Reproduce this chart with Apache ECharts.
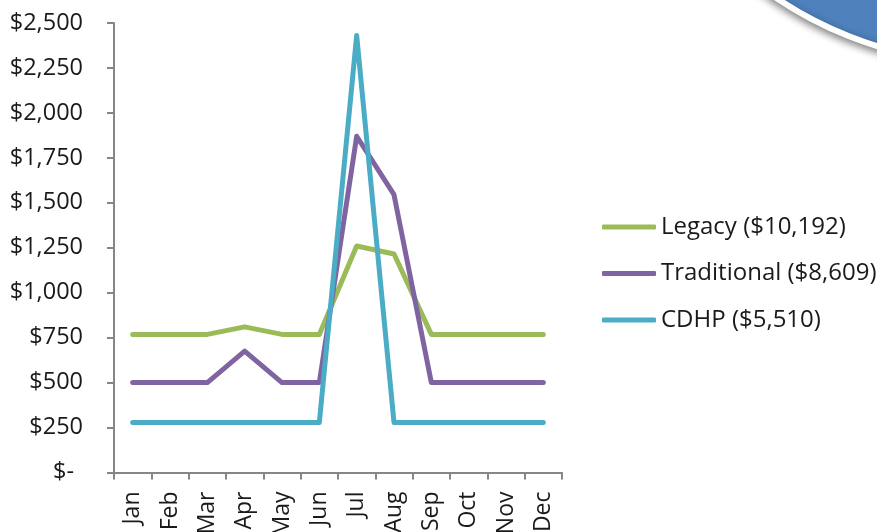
<!DOCTYPE html>
<html>
<head>
<meta charset="utf-8">
<script src="https://cdn.jsdelivr.net/npm/echarts@6/dist/echarts.min.js"></script>
<style>
  html, body { margin: 0; padding: 0; background: #fff; overflow: hidden; }
  #chart { width: 877px; height: 532px; }
</style>
</head>
<body>
<div id="chart"></div>
<script>
// Monthly plan cost by plan type
const months = ['Jan', 'Feb', 'Mar', 'Apr', 'May', 'Jun', 'Jul', 'Aug', 'Sep', 'Oct', 'Nov', 'Dec'];
const legacy      = [768, 768, 768, 810, 768, 768, 1260, 1215, 768, 768, 768, 768];
const traditional = [500, 500, 500, 675, 500, 500, 1870, 1545, 500, 500, 500, 500];
const cdhp        = [278, 278, 278, 278, 278, 278, 2430, 278, 278, 278, 278, 278];
const seriesNames = ['Legacy ($10,192)', 'Traditional ($8,609)', 'CDHP ($5,510)'];
const yTicks = { min: 0, max: 2500, interval: 250 };

const FONT = '"Open Sans", "Noto Sans", sans-serif';
const colors = ['#9BBB59', '#8064A2', '#4BACC6'];

function money(v) {
  if (v === 0) return '{z|$-}';
  return '$' + v.toLocaleString('en-US');
}

const chart = echarts.init(document.getElementById('chart'), null, { renderer: 'canvas' });

const lineSeries = [legacy, traditional, cdhp].map((data, i) => ({
  name: seriesNames[i],
  type: 'line',
  data: data,
  symbol: 'none',
  smooth: false,
  z: 2 + i,
  lineStyle: { width: 5, color: colors[i], cap: 'round', join: 'round' },
  itemStyle: { color: colors[i] }
}));

chart.setOption({
  animation: false,
  backgroundColor: '#ffffff',
  color: colors,
  // fixed plot box; month labels are allowed to run past the bottom edge
  grid: {
    left: 114, width: 448, top: 23, height: 449.5,
    containLabel: false,
    outerBoundsMode: 'none'
  },
  xAxis: {
    type: 'category',
    data: months,
    boundaryGap: true,
    axisLine: { lineStyle: { color: '#868686', width: 2 } },
    axisTick: { show: true, inside: false, length: 7, lineStyle: { color: '#868686', width: 2 } },
    axisLabel: {
      rotate: 90,
      margin: 19,
      interval: 0,
      color: '#1a1a1a',
      fontFamily: FONT,
      fontSize: 23
    },
    splitLine: { show: false }
  },
  yAxis: {
    type: 'value',
    min: yTicks.min,
    max: yTicks.max,
    interval: yTicks.interval,
    axisLine: { show: true, lineStyle: { color: '#868686', width: 2 } },
    axisTick: { show: true, inside: false, length: 7, lineStyle: { color: '#868686', width: 2 } },
    axisLabel: {
      margin: 31,
      color: '#1a1a1a',
      fontFamily: FONT,
      fontSize: 23.5,
      formatter: money,
      rich: { z: { fontFamily: FONT, fontSize: 23.5, color: '#1a1a1a', padding: [0, 9, 0, 0] } }
    },
    splitLine: { show: false }
  },
  legend: {
    orient: 'vertical',
    left: 602,
    top: 215,
    padding: 0,
    itemWidth: 54,
    itemHeight: 5,
    itemGap: 22.5,
    icon: 'roundRect',
    textStyle: { color: '#1a1a1a', fontFamily: FONT, fontSize: 24 },
    data: seriesNames
  },
  graphic: [{
    type: 'circle',
    z: 100,
    shape: { cx: 989, cy: -317, r: 380 },
    style: {
      fill: '#4F81BD',
      stroke: '#ffffff',
      lineWidth: 6,
      shadowBlur: 8,
      shadowColor: 'rgba(0,0,0,0.45)',
      shadowOffsetY: 3
    }
  }],
  series: lineSeries
});
</script>
</body>
</html>
